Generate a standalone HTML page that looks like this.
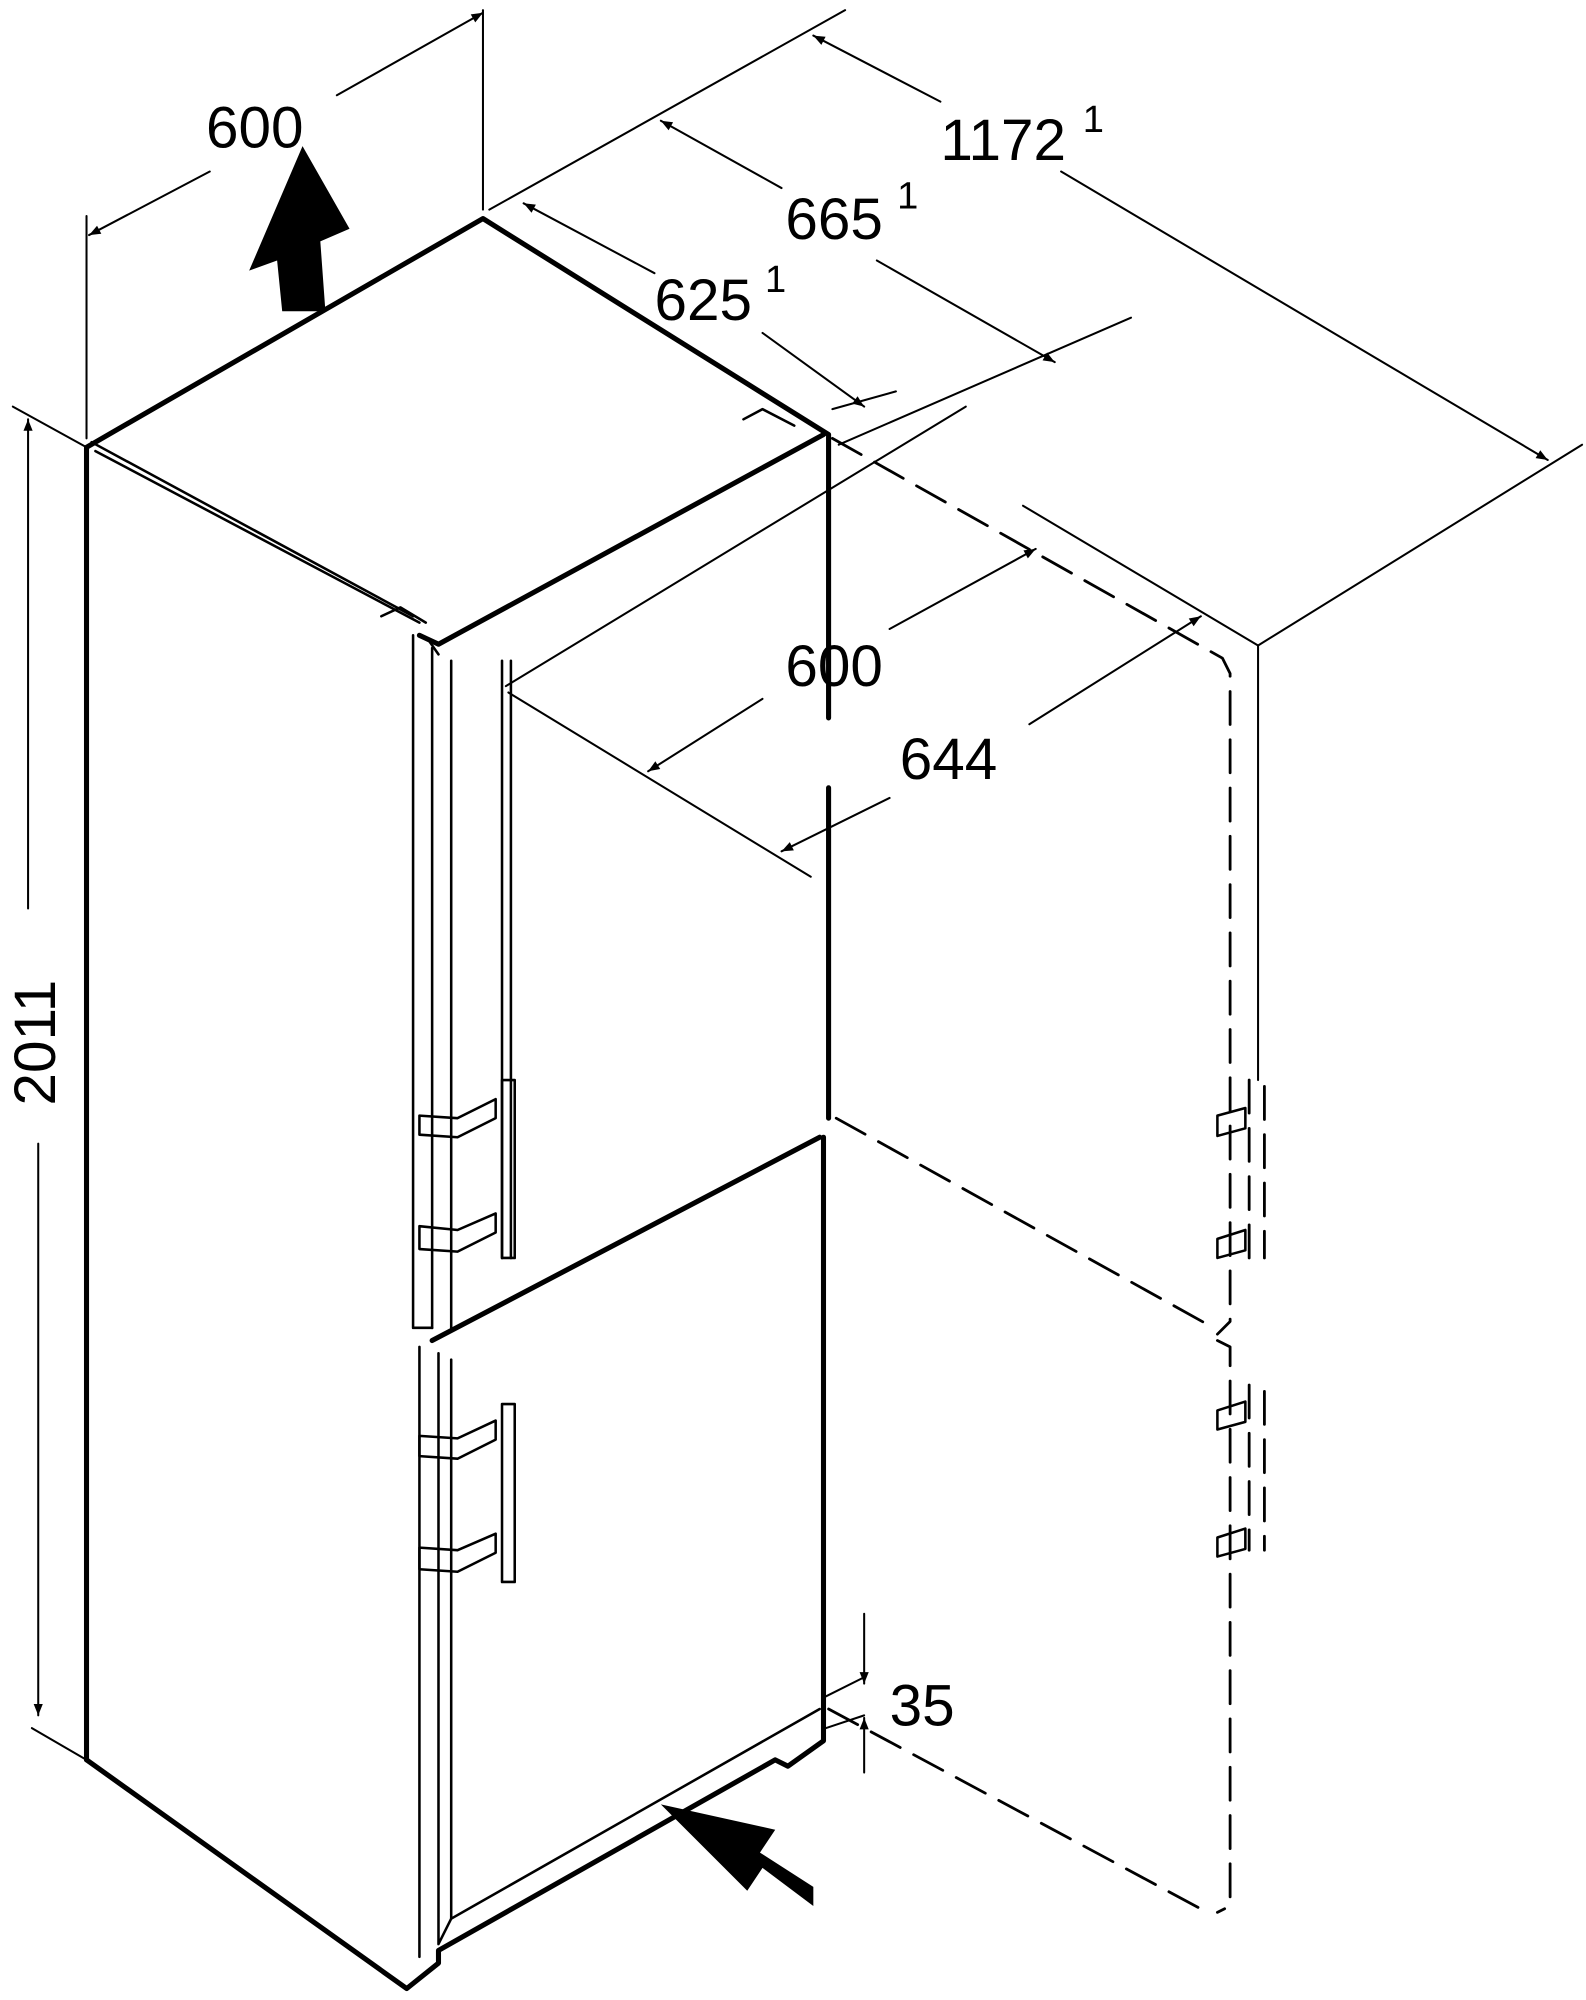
<!DOCTYPE html>
<html><head><meta charset="utf-8"><style>html,body{margin:0;padding:0;background:#fff}svg{display:block}</style></head>
<body>
<svg width="1586" height="2000" viewBox="0 0 1248 1574" xmlns="http://www.w3.org/2000/svg" font-family="Liberation Sans, sans-serif">
<defs><marker id="a" viewBox="0 0 10 10" refX="10" refY="5" markerWidth="20" markerHeight="9" orient="auto-start-reverse" markerUnits="userSpaceOnUse"><path d="M0,1 L10,5 L0,9 z" fill="#000"/></marker></defs>
<g stroke="#000" fill="none" stroke-linecap="round" stroke-linejoin="round">
<!-- body -->
<g stroke-width="4">
<path d="M68,1385 L68,352 L380,172 L652,342 L652,565"/>
<path d="M652,620 L652,880"/>
<path d="M68,1385 L320,1565 L345,1545 L345,1535 L610,1385 L620,1390 L648,1370 L648,895"/>
<path d="M330,500 L345,507 L648,342"/>
<path d="M340,1055 L645,895"/>
</g>
<g stroke-width="2">
<path d="M75,355 L330,490"/><path d="M72,348 L325,485"/>
<path d="M325,500 L325,1045 L340,1045"/>
<path d="M340,510 L340,1045"/><path d="M355,520 L355,1045"/>
<path d="M330,1060 L330,1540"/><path d="M345,1065 L345,1530 L355,1510"/>
<path d="M355,1070 L355,1510 L645,1345"/>
<path d="M300,485 L315,478 L335,490"/>
<path d="M585,330 L600,322 L625,335"/>
<path d="M338,505 L345,515"/>
<!-- handles -->
<path d="M395,520 L395,990 M402,520 L402,990"/>
<path d="M395,850 L395,990 L405,990 L405,850 Z"/>
<path d="M330,878 L360,880 L390,865 L390,880 L360,895 L330,893 Z"/>
<path d="M330,965 L360,968 L390,955 L390,970 L360,985 L330,983 Z"/>
<path d="M395,1105 L395,1245 L405,1245 L405,1105 Z"/>
<path d="M330,1130 L360,1132 L390,1118 L390,1133 L360,1148 L330,1146 Z"/>
<path d="M330,1218 L360,1220 L390,1207 L390,1222 L360,1237 L330,1235 Z"/>
</g>
<!-- dashed -->
<g stroke-width="2.2" stroke-dasharray="26,12">
<path d="M655,345 L962,518 L968,530 L968,1040 L958,1050"/>
<path d="M658,880 L955,1045"/>
<path d="M958,1055 L968,1060 L968,1500 L958,1505"/>
<path d="M652,1345 L950,1505"/>
<path d="M983,850 L983,990 M995,855 L995,990"/>
<path d="M983,1090 L983,1220 M995,1095 L995,1220"/>
</g>
<g stroke-width="2">
<path d="M958,878 L980,872 L980,888 L958,894 Z"/><path d="M958,975 L980,968 L980,984 L958,990 Z"/>
<path d="M958,1110 L980,1103 L980,1119 L958,1125 Z"/><path d="M958,1210 L980,1203 L980,1219 L958,1225 Z"/>
</g>
<!-- dimension/extension lines -->
<g stroke-width="1.6">
<path d="M68,345 L68,170"/><path d="M380,165 L380,8"/>
<path d="M70,185 L165,135" marker-start="url(#a)"/><path d="M265,75 L380,10" marker-end="url(#a)"/>
<path d="M385,165 L665,8"/><path d="M640,28 L740,80" marker-start="url(#a)"/><path d="M835,135 L1218,362" marker-end="url(#a)"/>
<path d="M990,508 L1245,350"/>
<path d="M520,95 L615,148" marker-start="url(#a)"/><path d="M690,205 L830,285" marker-end="url(#a)"/>
<path d="M660,350 L890,250"/>
<path d="M412,160 L515,215" marker-start="url(#a)"/><path d="M600,262 L680,320" marker-end="url(#a)"/>
<path d="M655,322 L705,308"/>
<path d="M398,540 L760,320"/>
<path d="M400,545 L638,690"/>
<path d="M805,398 L990,508"/><path d="M990,508 L990,850"/>
<path d="M700,495 L815,432" marker-end="url(#a)"/><path d="M600,550 L510,607" marker-end="url(#a)"/>
<path d="M810,570 L945,485" marker-end="url(#a)"/><path d="M700,628 L615,670" marker-end="url(#a)"/>
<path d="M10,320 L68,352"/><path d="M25,1360 L68,1385"/>
<path d="M22,330 L22,715" marker-start="url(#a)"/><path d="M30,900 L30,1350" marker-end="url(#a)"/>
<path d="M680,1270 L680,1325" marker-end="url(#a)"/><path d="M680,1395 L680,1352" marker-end="url(#a)"/>
<path d="M650,1335 L680,1320"/><path d="M650,1360 L680,1350"/>
</g>
</g>
<!-- big arrows -->
<path d="M222,245 L218,205 L196,213 L238,115 L275,180 L252,190 L256,245 Z" fill="#000"/>
<path d="M640,1500 L600,1470 L588,1488 L520,1420 L610,1440 L598,1458 L640,1485 Z" fill="#000"/>
<g font-size="46" fill="#000">
<text x="162" y="116">600</text>
<text x="740" y="126">1172</text><text x="852" y="104" font-size="30">1</text>
<text x="618" y="188">665</text><text x="706" y="164" font-size="30">1</text>
<text x="515" y="252">625</text><text x="602" y="230" font-size="30">1</text>
<text x="618" y="540">600</text>
<text x="708" y="613">644</text>
<text x="700" y="1358">35</text>
<text transform="translate(43,870) rotate(-90)">2011</text>
</g>
</svg>
</body></html>
